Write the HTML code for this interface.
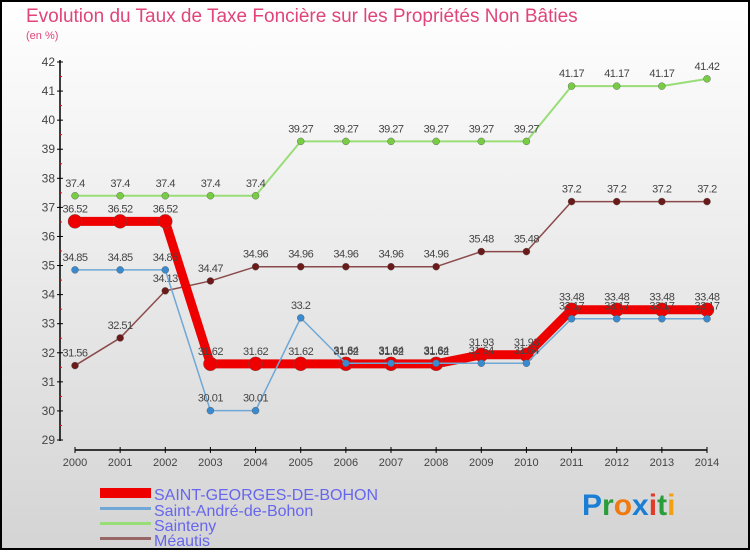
<!DOCTYPE html>
<html><head><meta charset="utf-8"><style>
body{margin:0;width:750px;height:550px;overflow:hidden;font-family:"Liberation Sans",sans-serif}
svg text{font-family:"Liberation Sans",sans-serif}
</style></head><body>
<svg id="chart" width="750" height="550" xmlns="http://www.w3.org/2000/svg">
<defs><linearGradient id="bg" x1="0" y1="0" x2="0" y2="1"><stop offset="0" stop-color="#ffffff"/><stop offset="1" stop-color="#d4d4d4"/></linearGradient></defs>
<rect x="1" y="1" width="748" height="548" fill="url(#bg)" stroke="#000" stroke-width="2"/>
<text x="26" y="22" font-size="19" fill="#e0447a">Evolution du Taux de Taxe Foncière sur les Propriétés Non Bâties</text>
<text x="26" y="39" font-size="11" fill="#e0447a">(en %)</text>
<g id="axes"></g><g id="series"></g>
<g font-size="16" fill="#6666ee">
<rect x="100" y="488" width="51" height="10" fill="#e00"/>
<text x="154" y="500">SAINT-GEORGES-DE-BOHON</text>
<rect x="100" y="507" width="51" height="3" fill="#6fa8d6"/>
<text x="154" y="516">Saint-André-de-Bohon</text>
<rect x="100" y="522" width="51" height="3" fill="#99dd77"/>
<text x="154" y="531">Sainteny</text>
<rect x="100" y="537" width="51" height="3" fill="#996666"/>
<text x="154" y="546">Méautis</text>
</g>
<g font-size="30" font-weight="bold">
<text x="582" y="515"><tspan fill="#1a7fd4">P</tspan><tspan fill="#2a9d3a">r</tspan><tspan fill="#f07a10">o</tspan><tspan fill="#1a7fd4">x</tspan><tspan fill="#e03a2a">i</tspan><tspan fill="#2a9d3a">t</tspan><tspan fill="#f0a010">i</tspan></text>
</g>
</svg>
<script>
const years=[2000,2001,2002,2003,2004,2005,2006,2007,2008,2009,2010,2011,2012,2013,2014];
const yTicks=[29,30,31,32,33,34,35,36,37,38,39,40,41,42];
const stGeorges=[36.52,36.52,36.52,31.62,31.62,31.62,31.62,31.62,31.62,31.93,31.93,33.48,33.48,33.48,33.48];
const stAndre=[34.85,34.85,34.85,30.01,30.01,33.2,31.64,31.64,31.64,31.64,31.64,33.17,33.17,33.17,33.17];
const sainteny=[37.4,37.4,37.4,37.4,37.4,39.27,39.27,39.27,39.27,39.27,39.27,41.17,41.17,41.17,41.42];
const meautis=[31.56,32.51,34.13,34.47,34.96,34.96,34.96,34.96,34.96,35.48,35.48,37.2,37.2,37.2,37.2];
const NS="http://www.w3.org/2000/svg";
const X=i=>75+i*(707-75)/(years.length-1);
const Y=v=>440-(v-29)*(440-62)/13;
function mk(p,t,a){const e=document.createElementNS(NS,t);for(const k in a)e.setAttribute(k,a[k]);p.appendChild(e);return e;}
const ax=document.getElementById('axes');
mk(ax,'line',{x1:60,y1:60,x2:60,y2:441,stroke:'#000','stroke-width':1.5});
mk(ax,'line',{x1:75,y1:450,x2:707,y2:450,stroke:'#000','stroke-width':1.5});
yTicks.forEach(v=>{
 mk(ax,'line',{x1:57,y1:Y(v),x2:63,y2:Y(v),stroke:'#000'});
 if(v<42)mk(ax,'line',{x1:59,y1:Y(v+0.5),x2:62,y2:Y(v+0.5),stroke:'#e00'});
 const t=mk(ax,'text',{x:55,y:Y(v)+4,'font-size':12,fill:'#444','text-anchor':'end'});
 
 
 t.textContent=v;
});
years.forEach((yr,i)=>{
 mk(ax,'line',{x1:X(i),y1:447,x2:X(i),y2:453,stroke:'#000'});
 const t=mk(ax,'text',{x:X(i),y:466,'font-size':11,fill:'#444','text-anchor':'middle'});
 
 
 t.textContent=yr;
});
const sg=document.getElementById('series');
function draw(vals,name,color,lw,r,dot){
 const g=mk(sg,'g',{});
 
 
 mk(g,'polyline',{points:vals.map((v,i)=>X(i)+','+Y(v)).join(' '),fill:'none',stroke:color,'stroke-width':lw,'stroke-linejoin':'round'});
 vals.forEach((v,i)=>{
  const c=mk(g,'circle',{cx:X(i),cy:Y(v),r:r,fill:dot,stroke:'#555','stroke-width':0.4});
  
  
  const t=mk(g,'text',{x:X(i),y:Y(v)-9,'font-size':11,fill:'#444','text-anchor':'middle','letter-spacing':'-0.5'});
  
  
  t.textContent=v;
 });
}
draw(meautis,'series-meautis','#8b4a4a',1.5,3.5,'#6b1a1a');
draw(sainteny,'series-sainteny','#99dd77',2,3.5,'#77cc44');
draw(stGeorges,'series-saint-georges','#e00',9,7,'#e00');
draw(stAndre,'series-saint-andre','#6fa8d6',1.5,3.5,'#3a8ad0');
</script>
</body></html>
